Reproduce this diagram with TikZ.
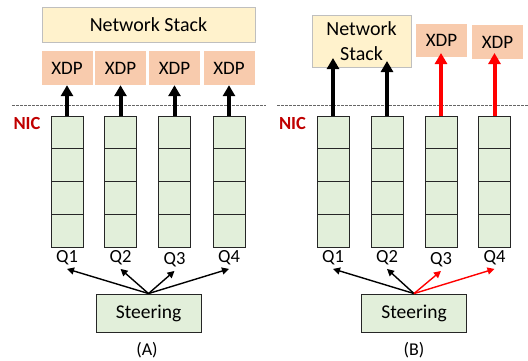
\documentclass[tikz,border=0pt]{standalone}
\usepackage{fontspec}
\setmainfont{Carlito}
\usetikzlibrary{arrows.meta}
\definecolor{stackfill}{HTML}{FFF2CC}
\definecolor{xdpfill}{HTML}{F8CBAD}
\definecolor{qfill}{HTML}{E2EFDA}
\definecolor{nicred}{HTML}{C00000}

\begin{document}
\begin{tikzpicture}[
        x=1pt, y=-1pt, % pixel grid, y downwards
        stack/.style={draw=black!25, fill=stackfill, align=center, inner sep=0pt, font=\fontsize{20}{25}\selectfont},
        xdp/.style={fill=xdpfill, minimum width=51pt, minimum height=34pt, inner sep=0pt, font=\fontsize{19}{21}\selectfont},
        cell/.style={draw=black!85, fill=qfill, line width=0.9pt, minimum width=32pt, minimum height=32.75pt, inner sep=0pt}, % one slot of a queue
        qlabel/.style={inner sep=3.5pt, font=\fontsize{18.5}{20}\selectfont},
        steer/.style={draw=black!85, fill=qfill, line width=0.9pt, minimum width=105pt, minimum height=38pt, font=\fontsize{19.5}{21}\selectfont},
        push/.style={line width=4pt, -{Triangle[length=11pt, width=12pt]}},
        route/.style={line width=1.4pt, -{Triangle[length=7pt, width=7pt]}},
        nic/.style={text=nicred, font=\fontsize{18.5}{20}\selectfont\bfseries},
        sep/.style={draw=black!60, line width=0.6pt, dash pattern=on 2.5pt off 1.5pt},
        caption/.style={font=\fontsize{18}{20}\selectfont},
    ]
    \useasboundingbox (0,0) rectangle (528,360);

    % (A): every queue goes through XDP
    \node[stack, minimum width=213pt, minimum height=35pt] (nsa) at (148.5,24.5) {Network Stack};
    \draw[sep] (12,105) -- (266,105);
    \node[nic] (nica) at (27,123) {NIC};
    \node[steer] (sa) at (148.5,313) {Steering};
    \foreach \x/\ly [count=\i] in {67/258, 120.5/258, 174.5/260, 229/258} {
        \node[xdp] (xa\i) at (\x,68) {XDP};
        \foreach \j in {1,...,4}
            \node[cell] (a\i-\j) at (\x,{116+32.75*(\j-0.5)}) {};
        \node[qlabel] (la\i) at (\x,\ly) {Q\i};
        \draw[push] (a\i-1.north) -- (xa\i.south);
        \draw[route] (sa.north) -- (la\i.south);
    }
    \node[caption] (capa) at (147,350) {(A)};

    % (B): Q1, Q2 to the stack, Q3, Q4 to XDP
    \node[stack, minimum width=99pt, minimum height=52pt] (nsb) at (361.5,41) {Network\\Stack};
    \node[xdp, minimum height=33pt] (xb3) at (441.5,40.5) {XDP};
    \node[xdp] (xb4) at (497.5,42) {XDP};
    \draw[sep] (277,105) -- (528,105);
    \node[nic] (nicb) at (292.5,123) {NIC};
    \node[steer] (sb) at (414,313) {Steering};
    \foreach \x/\ly/\tip/\col [count=\i] in {333/258/58/black, 387/258/61/black, 441/260/53/red, 494.5/258/53/red} {
        \foreach \j in {1,...,4}
            \node[cell] (b\i-\j) at (\x,{116+32.75*(\j-0.5)}) {};
        \node[qlabel] (lb\i) at (\x,\ly) {Q\i};
        \coordinate (tb\i) at (\x,\tip);
        \draw[push, \col] (b\i-1.north) -- (tb\i);
        \draw[route, \col] (sb.north) -- (lb\i.south);
    }
    \node[caption] (capb) at (414,350) {(B)};
\end{tikzpicture}
\end{document}
